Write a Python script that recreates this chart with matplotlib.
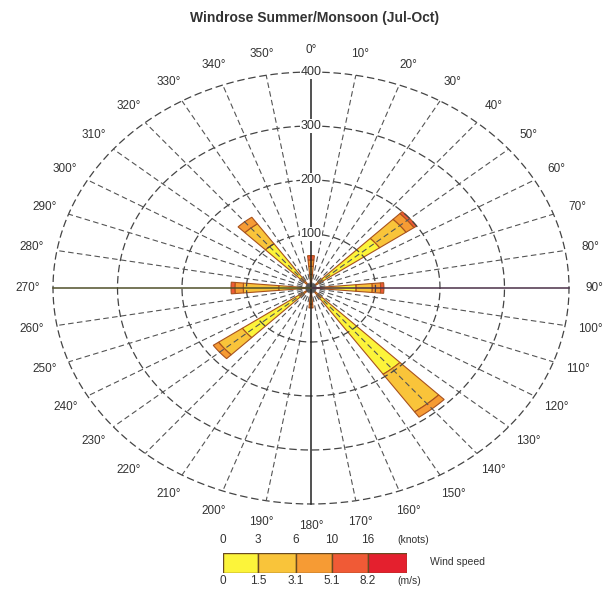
import matplotlib
matplotlib.use("Agg")
import matplotlib.pyplot as plt
import numpy as np

plt.rcParams["font.family"] = ["Liberation Sans", "DejaVu Sans"]

# directions of the petals (deg, clockwise from north)
directions = [0, 50, 90, 140, 180, 230, 270, 320]
# frequency per speed class (stacked increments)
spd_0_3 = [25, 130, 70, 195, 15, 130, 50, 100]
spd_3_6 = [15, 50, 25, 85, 15, 45, 55, 45]
spd_6_10 = [12, 15, 13, 12, 7, 10, 13, 15]
spd_10_16 = [8, 5, 5, 0, 0, 0, 6, 0]
spd_16_up = [0, 0, 0, 0, 0, 0, 0, 0]

class_colors = ["#fcf43a", "#f9c43a", "#f69b34", "#f05a36", "#e4202e"]
knots_ticks = ["0", "3", "6", "10", "16"]
ms_ticks = ["0", "1.5", "3.1", "5.1", "8.2"]
rings = [100, 200, 300, 400]

fig = plt.figure(figsize=(6.05, 5.97), dpi=100)
ax = fig.add_axes([0, 0, 1, 1])
# ellipse: 258 px per 400 horizontally, 216 px per 400 vertically
sx = 258 / 400
sy = 216 / 400
cx, cy = 311, 597 - 288
ax.set_xlim(-cx / sx, (605 - cx) / sx)
ax.set_ylim(-cy / sy, (597 - cy) / sy)
ax.axis("off")

def xy(r, deg):
    t = np.deg2rad(deg)
    return r * np.sin(t), r * np.cos(t)

# rings
tt = np.linspace(0, 360, 721)
for r in rings:
    x, y = xy(r, tt)
    ax.plot(x, y, color="#444444", lw=0.9, ls=(0, (6, 3)), zorder=3)

# spokes
for d in range(0, 360, 10):
    if d % 90 == 0:
        continue
    x, y = xy(np.array([0, 400]), d)
    ax.plot(x, y, color="#555555", lw=0.8, ls=(0, (5, 3)), zorder=3)

# main axes lines
ax.plot([0, 0], [0, 400], color="#222222", lw=1.1, zorder=4)
ax.plot([0, 0], [0, -400], color="#222222", lw=1.1, zorder=4)
ax.plot([0, 400], [0, 0], color="#4a3048", lw=1.1, zorder=4)
ax.plot([0, -400], [0, 0], color="#50502a", lw=1.1, zorder=4)

# petals
width = 10
classes = [spd_0_3, spd_3_6, spd_6_10, spd_10_16, spd_16_up]
for i, d in enumerate(directions):
    base = 0
    for vals, col in zip(classes, class_colors):
        v = vals[i]
        if v <= 0:
            continue
        a = np.linspace(d - width / 2, d + width / 2, 10)
        xo, yo = xy(base + v, a)
        xi, yi = xy(base, a[::-1])
        ax.fill(np.r_[xo, xi], np.r_[yo, yi], facecolor=col,
                edgecolor="#a8521e", lw=0.8, zorder=2)
        base += v

# ring labels
for r in rings:
    ax.text(0, r, str(r), ha="center", va="center", fontsize=9,
            color="#333333", zorder=5,
            bbox=dict(boxstyle="square,pad=0.05", fc="white", ec="none"))

# direction labels
for d in range(0, 360, 10):
    x, y = xy(440, d)
    ax.text(x, y, f"{d}°", ha="center", va="center", fontsize=8.5,
            color="#333333")

fig.text(0.52, 0.970, "Windrose Summer/Monsoon (Jul-Oct)", ha="center",
         va="center", fontsize=10, fontweight="bold", color="#333333")

# legend bar
lax = fig.add_axes([223 / 605, 24 / 597, (407 - 223) / 605, 20 / 597])
edges = [0, 35, 73, 109, 145, 184]
for k, col in enumerate(class_colors):
    lax.bar(edges[k], 1, width=edges[k + 1] - edges[k], align="edge",
            color=col, edgecolor="#6a4a20", lw=1)
lax.set_xlim(0, 184)
lax.set_ylim(0, 1)
lax.axis("off")
for k in range(5):
    fx = (223 + edges[k]) / 605
    fig.text(fx, 1 - 540 / 597, knots_ticks[k], ha="center", va="center",
             fontsize=8.5, color="#333333")
    fig.text(fx, 1 - 581 / 597, ms_ticks[k], ha="center", va="center",
             fontsize=8.5, color="#333333")
fig.text(397 / 605, 1 - 540 / 597, "(knots)", ha="left", va="center",
         fontsize=7.5, color="#333333")
fig.text(397 / 605, 1 - 581 / 597, "(m/s)", ha="left", va="center",
         fontsize=7.5, color="#333333")
fig.text(430 / 605, 1 - 562 / 597, "Wind speed", ha="left", va="center",
         fontsize=7.5, color="#333333")

fig.savefig("out.png", dpi=100)
